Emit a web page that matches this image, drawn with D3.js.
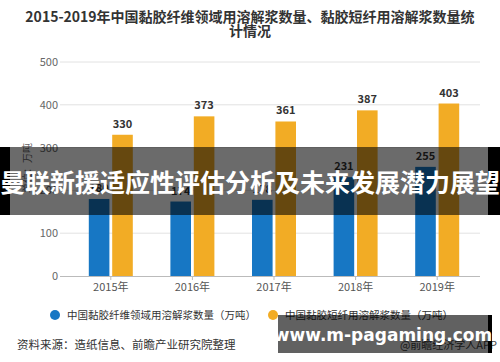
<!DOCTYPE html>
<html>
<head>
<meta charset="utf-8">
<script src="https://cdn.jsdelivr.net/npm/d3@7/dist/d3.min.js"></script>
<style>
    body { margin: 0; background: #fff; }
    svg { display: block; font-family: "Noto Sans CJK SC", "Noto Sans", sans-serif; }
</style>
</head>
<body>
<div id="chart"></div>
<script>
// chart data
var years = ["2015年", "2016年", "2017年", "2018年", "2019年"];
var fiberValues = [180, 174, 178, 231, 255];
var stapleValues = [330, 373, 361, 387, 403];
var yTicks = [0, 100, 200, 300, 400, 500];
var seriesNames = ["中国黏胶纤维领域用溶解浆数量（万吨）", "中国黏胶短纤用溶解浆数量（万吨）"];
var seriesColors = ["#1777c4", "#f2ac25"];

(function(d3) {

    var width = 500,
        height = 362;

    var svg = d3.select("#chart").append("svg")
        .attr("width", width)
        .attr("height", height);

    // title (wraps on two lines in the original)
    svg.append("g").selectAll("text")
        .data(["2015-2019年中国黏胶纤维领域用溶解浆数量、黏胶短纤用溶解浆数量统", "计情况"])
        .enter()
        .append("text")
        .attr("x", 250)
        .attr("y", function(d, i) { return 22 + i * 14; })
        .attr("text-anchor", "middle")
        .attr("font-size", 14)
        .attr("font-weight", "bold")
        .style("fill", "#333")
        .text(function(d) { return d; });

    var x = d3.scaleBand()
        .domain(years)
        .range([70, 478]);

    var y = d3.scaleLinear()
        .domain([0, 500])
        .range([276, 62]);

    // gridlines
    svg.append("g").selectAll("line")
        .data(yTicks.slice(1))
        .enter()
        .append("line")
        .attr("x1", 60)
        .attr("x2", 480)
        .attr("y1", function(d) { return y(d); })
        .attr("y2", function(d) { return y(d); })
        .style("stroke", "#e2e2e2")
        .style("stroke-width", 1);

    // y axis labels
    var yAxis = svg.append("g")
        .attr("transform", "translate(58,0)")
        .call(d3.axisLeft(y).tickValues(yTicks).tickSize(0).tickPadding(0));
    yAxis.select(".domain").remove();
    yAxis.selectAll("text")
        .attr("font-size", 11)
        .attr("font-family", "'Noto Sans CJK SC', sans-serif")
        .style("fill", "#666");

    svg.append("text")
        .attr("transform", "translate(31,168) rotate(-90)")
        .attr("text-anchor", "middle")
        .attr("font-size", 10)
        .style("fill", "#666")
        .text("单位：万吨");

    // x axis
    var xAxis = svg.append("g")
        .attr("transform", "translate(0,276)")
        .call(d3.axisBottom(x).tickSize(4).tickPadding(3));
    xAxis.select(".domain")
        .attr("d", "M60,0.5H480")
        .style("stroke", "#bbb");
    xAxis.selectAll(".tick line").style("stroke", "#bbb");
    xAxis.selectAll("text")
        .attr("font-size", 11)
        .attr("font-family", "'Noto Sans CJK SC', sans-serif")
        .style("fill", "#555");

    var inner = d3.scaleBand()
        .domain([0, 1])
        .range([-22, 22])
        .paddingInner(0.12);

    var series = [fiberValues, stapleValues];

    series.forEach(function(values, s) {
        var g = svg.append("g").attr("class", "series" + s);

        g.selectAll("rect")
            .data(values)
            .enter()
            .append("rect")
            .attr("x", function(d, i) { return x(years[i]) + x.bandwidth() / 2 + inner(s); })
            .attr("y", function(d) { return y(d); })
            .attr("width", inner.bandwidth())
            .attr("height", function(d) { return y(0) - y(d); })
            .style("fill", seriesColors[s]);

        g.selectAll("text")
            .data(values)
            .enter()
            .append("text")
            .attr("x", function(d, i) { return x(years[i]) + x.bandwidth() / 2 + inner(s) + inner.bandwidth() / 2; })
            .attr("y", function(d) { return y(d) - 7; })
            .attr("text-anchor", "middle")
            .attr("font-size", 11)
            .attr("font-weight", "bold")
            .style("fill", "#333")
            .text(function(d) { return d; });
    });

    // legend
    var legendX = [55, 273];
    var legend = svg.append("g").selectAll("g")
        .data(seriesNames)
        .enter()
        .append("g")
        .attr("transform", function(d, i) { return "translate(" + legendX[i] + ",315)"; });
    legend.append("circle")
        .attr("r", 5)
        .style("fill", function(d, i) { return seriesColors[i]; });
    legend.append("text")
        .attr("x", 12)
        .attr("y", 4)
        .attr("font-size", 10.5)
        .style("fill", "#333")
        .text(function(d) { return d; });

    // source line
    svg.append("text")
        .attr("x", 17)
        .attr("y", 349)
        .attr("font-size", 11.5)
        .style("fill", "#333")
        .text("资料来源：造纸信息、前瞻产业研究院整理");
    svg.append("text")
        .attr("x", 497)
        .attr("y", 349)
        .attr("text-anchor", "end")
        .attr("font-size", 11)
        .style("fill", "#444")
        .text("@前瞻经济学人APP");

    // overlay banner across the middle
    var banner = svg.append("g");
    banner.append("rect")
        .attr("x", 0).attr("y", 147).attr("width", 500).attr("height", 68)
        .style("fill", "rgba(0,0,0,0.58)");
    banner.append("rect")
        .attr("x", 0).attr("y", 147).attr("width", 10).attr("height", 68)
        .style("fill", "#000");
    banner.append("rect")
        .attr("x", 488).attr("y", 147).attr("width", 12).attr("height", 68)
        .style("fill", "#000");
    banner.append("text")
        .attr("x", 250)
        .attr("y", 192)
        .attr("text-anchor", "middle")
        .attr("font-size", 25)
        .attr("font-weight", "bold")
        .style("fill", "#fff")
        .text("曼联新援适应性评估分析及未来发展潜力展望");

    // url box bottom right
    var urlBox = svg.append("g");
    urlBox.append("rect")
        .attr("x", 278).attr("y", 315).attr("width", 210).attr("height", 38)
        .style("fill", "rgba(0,0,0,0.62)");
    urlBox.append("rect")
        .attr("x", 488).attr("y", 315).attr("width", 4).attr("height", 38)
        .style("fill", "#000");
    urlBox.append("text")
        .attr("x", 383)
        .attr("y", 341)
        .attr("text-anchor", "middle")
        .attr("font-size", 17)
        .attr("font-weight", "bold")
        .attr("font-family", "'DejaVu Sans', sans-serif")
        .style("fill", "#fff")
        .text("www.m-pagaming.com");

})(d3);
</script>
</body>
</html>
